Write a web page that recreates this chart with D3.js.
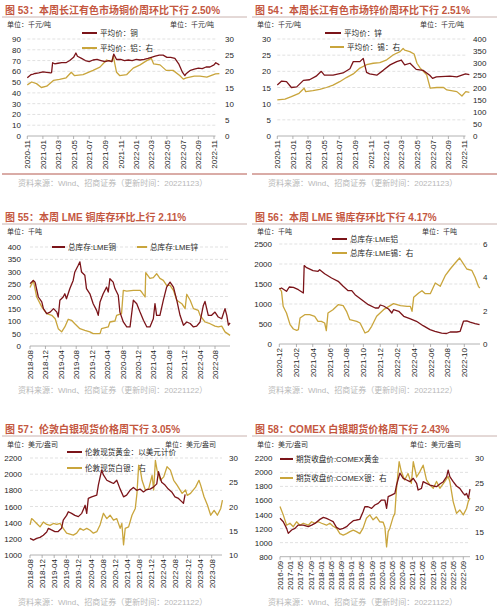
<!DOCTYPE html>
<html><head><meta charset="utf-8">
<script src="https://cdn.jsdelivr.net/npm/d3@7"></script>
<style>body{margin:0;background:#fff}svg{display:block}</style>
</head><body><svg id="c" width="500" height="611"></svg>
<script>
// ---------------- DATA ----------------
// Panel 53: Changjiang copper (left, k yuan/t) & aluminium (right)
const copperPrice = [["2020-11-01",54],["2020-11-08",55.5],["2020-11-16",57],["2020-11-24",57.5],["2020-12-01",58],["2020-12-16",58.5],["2021-01-01",59.5],["2021-01-16",59],["2021-02-01",58.5],["2021-02-04",59],["2021-02-08",68],["2021-02-16",67],["2021-03-01",67.5],["2021-03-16",68],["2021-04-01",68],["2021-04-16",70],["2021-05-01",73],["2021-05-10",77],["2021-05-16",74],["2021-06-01",72],["2021-06-16",70],["2021-07-01",69],["2021-07-16",70.5],["2021-08-01",71],["2021-08-16",70],["2021-09-01",69],["2021-09-16",70],["2021-09-28",69],["2021-10-05",76],["2021-10-16",71],["2021-11-01",71],["2021-11-16",70],["2021-12-01",70.5],["2021-12-16",70],["2022-01-01",71],["2022-01-16",70.5],["2022-02-01",71],["2022-02-16",72],["2022-03-01",73],["2022-03-16",74],["2022-04-01",75],["2022-04-16",75],["2022-05-01",73],["2022-05-16",73],["2022-06-01",72],["2022-06-16",67],["2022-07-01",59],["2022-07-10",56],["2022-07-16",58],["2022-08-01",61],["2022-08-16",62],["2022-09-01",63],["2022-09-16",62.5],["2022-10-01",64],["2022-10-16",64],["2022-11-01",66],["2022-11-08",68],["2022-11-22",66]];
const aluminumPrice = [["2020-11-01",15.8],["2020-11-18",16.7],["2020-12-07",16.2],["2020-12-26",15.0],["2021-01-16",15.4],["2021-02-11",17.2],["2021-03-07",17.5],["2021-04-02",18.0],["2021-04-22",19.7],["2021-05-04",18.7],["2021-06-07",19.0],["2021-07-16",20.3],["2021-08-12",21.3],["2021-09-07",23.5],["2021-09-27",23.0],["2021-10-03",24.8],["2021-10-16",19.7],["2021-10-28",18.7],["2021-11-25",19.0],["2021-12-20",21.0],["2022-01-16",22.0],["2022-02-11",23.3],["2022-03-01",24.0],["2022-03-10",22.3],["2022-04-04",22.0],["2022-04-28",20.3],["2022-05-25",20.3],["2022-06-20",18.7],["2022-07-04",17.6],["2022-07-16",18.0],["2022-08-16",18.5],["2022-09-07",18.5],["2022-10-04",18.2],["2022-11-07",19.2],["2022-11-22",19.3]];
const ticks53 = ["2020-11","2021-01","2021-03","2021-05","2021-07","2021-09","2021-11","2022-01","2022-03","2022-05","2022-07","2022-09","2022-11"];

// Panel 54: zinc (left) & tin (right)
const zincPrice = [["2020-11-01",15.8],["2020-11-18",17.0],["2020-12-07",16.8],["2020-12-26",15.0],["2021-01-16",15.2],["2021-02-11",17.2],["2021-03-07",17.4],["2021-04-02",18.5],["2021-04-22",20.0],["2021-05-04",18.8],["2021-06-07",18.8],["2021-07-16",19.5],["2021-08-12",20.8],["2021-08-25",23.0],["2021-09-20",23.0],["2021-10-03",24.0],["2021-10-16",19.7],["2021-10-28",19.2],["2021-11-25",18.8],["2021-12-20",20.3],["2022-01-16",22.0],["2022-02-11",23.0],["2022-03-01",23.5],["2022-03-14",22.0],["2022-04-04",22.5],["2022-04-28",20.6],["2022-05-25",20.3],["2022-06-20",18.8],["2022-07-01",17.8],["2022-07-16",18.3],["2022-09-07",18.5],["2022-10-04",18.3],["2022-11-07",19.2],["2022-11-22",19.0]];
const tinPrice = [["2020-11-01",149],["2020-12-01",152],["2020-12-26",162],["2021-01-25",176],["2021-02-14",197],["2021-02-20",183],["2021-03-20",187],["2021-04-16",192],["2021-05-12",200],["2021-06-07",210],["2021-07-03",224],["2021-07-29",241],["2021-08-25",256],["2021-09-20",280],["2021-10-16",294],["2021-11-11",300],["2021-12-07",303],["2022-01-03",314],["2022-01-29",335],["2022-02-24",348],["2022-03-08",361],["2022-03-14",354],["2022-04-03",348],["2022-04-20",338],["2022-05-01",300],["2022-05-14",280],["2022-06-08",252],["2022-06-22",197],["2022-07-18",200],["2022-08-13",200],["2022-08-26",190],["2022-10-04",183],["2022-10-24",165],["2022-11-08",183],["2022-11-22",180]];

// Panel 55: LME copper & zinc stocks (k t)
const lmeCopperStock = [["2018-08-01",252],["2018-08-27",265],["2018-09-10",258],["2018-10-06",198],["2018-11-02",178],["2018-11-15",151],["2018-12-11",131],["2019-01-07",137],["2019-02-03",151],["2019-03-01",137],["2019-03-12",117],["2019-03-25",185],["2019-04-20",198],["2019-05-03",211],["2019-05-16",191],["2019-06-12",232],["2019-07-08",265],["2019-07-21",299],["2019-08-17",326],["2019-08-30",340],["2019-09-12",299],["2019-10-08",286],["2019-10-21",232],["2019-11-17",211],["2019-12-13",171],["2020-01-09",144],["2020-01-22",124],["2020-02-05",178],["2020-03-01",211],["2020-03-28",238],["2020-04-10",218],["2020-04-23",272],["2020-05-19",258],["2020-06-02",232],["2020-06-28",205],["2020-07-11",137],["2020-08-07",97],["2020-09-03",77],["2020-09-29",77],["2020-10-25",185],["2020-11-21",171],["2020-12-17",137],["2021-01-13",104],["2021-02-09",77],["2021-03-05",77],["2021-04-01",110],["2021-04-14",171],["2021-04-27",124],["2021-05-23",124],["2021-06-19",185],["2021-07-15",238],["2021-08-11",258],["2021-09-07",238],["2021-10-03",185],["2021-10-29",124],["2021-11-25",84],["2021-12-21",97],["2022-01-17",91],["2022-02-12",77],["2022-03-09",80],["2022-04-05",97],["2022-05-01",164],["2022-05-14",180],["2022-06-09",124],["2022-07-05",124],["2022-08-01",137],["2022-08-27",117],["2022-09-23",110],["2022-10-19",151],["2022-11-02",124],["2022-11-15",84],["2022-11-28",93]];
const lmeZincStock = [["2018-08-01",236],["2018-08-27",265],["2018-09-23",198],["2018-11-02",158],["2018-12-11",131],["2019-01-20",124],["2019-02-16",110],["2019-03-12",70],["2019-04-08",57],["2019-05-03",77],["2019-05-30",108],["2019-06-25",104],["2019-07-21",90],["2019-08-30",70],["2019-10-08",63],["2019-11-17",57],["2019-12-13",50],["2020-02-05",50],["2020-02-17",70],["2020-04-10",77],["2020-04-23",97],["2020-06-02",101],["2020-06-15",124],["2020-07-24",131],["2020-08-07",225],["2020-09-03",222],["2020-10-25",225],["2020-12-17",225],["2020-12-30",218],["2021-01-26",198],["2021-01-31",296],["2021-03-05",273],["2021-04-01",276],["2021-04-27",292],["2021-05-23",273],["2021-06-19",265],["2021-07-15",245],["2021-08-11",245],["2021-09-07",225],["2021-10-03",185],["2021-11-12",171],["2021-12-08",151],["2021-12-21",209],["2022-01-17",185],["2022-02-12",151],["2022-03-22",144],["2022-04-05",124],["2022-05-14",97],["2022-06-23",90],["2022-08-01",80],["2022-08-27",77],["2022-09-23",80],["2022-10-19",57],["2022-11-28",43]];
const ticks55 = ["2018-08","2018-12","2019-04","2019-08","2019-12","2020-04","2020-08","2020-12","2021-04","2021-08","2021-12","2022-04","2022-08"];

// Panel 56: LME aluminium (left, k t) & tin (right, k t)
const lmeAlStock = [["2020-12-01",1375],["2020-12-09",1400],["2020-12-27",1317],["2021-01-06",1425],["2021-01-21",1417],["2021-02-08",1358],["2021-02-26",1275],["2021-03-01",1960],["2021-03-08",1917],["2021-04-02",1833],["2021-04-20",1817],["2021-04-26",1858],["2021-05-14",1758],["2021-06-08",1650],["2021-07-02",1567],["2021-07-20",1442],["2021-08-07",1333],["2021-08-20",1333],["2021-09-01",1233],["2021-09-25",1108],["2021-10-19",983],["2021-11-13",900],["2021-11-25",900],["2021-12-01",975],["2021-12-13",950],["2021-12-31",875],["2022-01-12",775],["2022-01-18",858],["2022-02-06",817],["2022-02-24",692],["2022-03-18",633],["2022-04-11",567],["2022-05-05",458],["2022-05-30",358],["2022-06-17",317],["2022-07-11",270],["2022-07-29",262],["2022-08-11",300],["2022-09-04",300],["2022-09-16",317],["2022-09-28",570],["2022-10-10",580],["2022-10-22",545],["2022-11-09",510],["2022-11-25",483]];
const lmeTinStock = [["2020-12-01",3.36],["2020-12-09",3.16],["2020-12-15",2.26],["2020-12-21",2.06],["2020-12-27",1.86],["2021-01-09",1.16],["2021-01-21",0.9],["2021-02-02",0.82],["2021-02-08",0.86],["2021-02-14",1.56],["2021-03-03",1.76],["2021-03-21",1.76],["2021-04-08",1.66],["2021-04-20",1.36],["2021-05-02",1.36],["2021-05-14",1.26],["2021-05-20",0.8],["2021-05-26",1.86],["2021-06-13",2.06],["2021-07-02",2.36],["2021-07-20",2.3],["2021-08-01",1.96],["2021-08-13",1.46],["2021-09-07",1.36],["2021-09-19",1.26],["2021-10-07",0.66],["2021-10-19",0.76],["2021-10-31",1.06],["2021-11-18",1.66],["2021-12-13",2.06],["2022-01-06",2.3],["2022-01-18",2.42],["2022-02-12",2.3],["2022-03-08",2.26],["2022-03-20",2.26],["2022-03-26",1.96],["2022-04-01",2.8],["2022-04-19",3.06],["2022-05-01",3.2],["2022-05-13",3.02],["2022-05-31",3.02],["2022-06-18",3.66],["2022-07-06",3.46],["2022-07-24",4.1],["2022-08-11",4.5],["2022-08-29",4.86],["2022-09-14",5.16],["2022-09-22",4.96],["2022-10-10",4.5],["2022-10-28",4.42],["2022-11-09",4.0],["2022-11-21",3.46],["2022-11-26",3.36]];
const ticks56 = ["2020-12","2021-02","2021-04","2021-06","2021-08","2021-10","2021-12","2022-02","2022-04","2022-06","2022-08","2022-10"];

// Panel 57: London spot gold (left, USD/oz) & silver (right)
const londonGold = [["2018-08-01",1205],["2018-09-04",1185],["2018-10-07",1205],["2018-11-10",1218],["2018-12-13",1245],["2019-01-16",1285],["2019-02-02",1330],["2019-03-05",1310],["2019-04-08",1290],["2019-05-11",1290],["2019-06-14",1330],["2019-07-01",1430],["2019-08-04",1490],["2019-08-21",1535],["2019-09-23",1515],["2019-10-26",1490],["2019-11-30",1475],["2020-01-03",1515],["2020-02-06",1615],["2020-02-22",1515],["2020-03-09",1700],["2020-04-12",1720],["2020-06-02",1740],["2020-06-18",1865],["2020-07-21",2050],["2020-08-08",1990],["2020-09-11",1925],["2020-10-14",1905],["2020-11-17",1885],["2020-12-20",1925],["2021-01-23",1815],["2021-02-26",1720],["2021-03-29",1740],["2021-05-02",1800],["2021-06-05",1835],["2021-07-08",1800],["2021-08-11",1815],["2021-09-14",1780],["2021-10-17",1810],["2021-11-20",1815],["2021-12-23",1840],["2022-01-26",1880],["2022-02-12",2030],["2022-03-16",1900],["2022-04-19",1865],["2022-05-22",1815],["2022-06-25",1780],["2022-07-28",1720],["2022-09-01",1700],["2022-10-04",1660],["2022-10-21",1640],["2022-11-07",1750]];
const londonSilver = [["2018-08-01",16.2],["2018-08-17",17.5],["2018-09-04",17.2],["2018-10-07",16.5],["2018-11-10",15.8],["2018-12-13",16.8],["2019-01-16",16.3],["2019-02-19",16.1],["2019-03-24",16.5],["2019-04-27",16.3],["2019-05-31",16.5],["2019-07-01",15.5],["2019-08-04",14.5],["2019-09-06",14.3],["2019-10-10",14.1],["2019-11-13",14.5],["2019-12-17",15.5],["2020-01-19",15.1],["2020-02-22",15.5],["2020-03-27",15.1],["2020-04-29",14.5],["2020-06-02",14.8],["2020-07-05",16.2],["2020-08-08",18.6],["2020-09-11",17.5],["2020-10-14",18.2],["2020-11-17",17.2],["2020-12-20",17.5],["2021-01-23",15.5],["2021-02-09",16.5],["2021-02-26",12.1],["2021-03-15",15.5],["2021-04-18",15.8],["2021-05-22",18.2],["2021-06-24",19.6],["2021-07-11",22.7],["2021-07-28",28.5],["2021-08-14",27.5],["2021-08-31",25.4],["2021-10-03",23.4],["2021-11-06",23.7],["2021-12-10",26.4],["2021-12-26",23.4],["2022-01-12",29.5],["2022-01-29",27.5],["2022-03-03",25.4],["2022-04-06",26.1],["2022-05-09",28.2],["2022-06-12",27.5],["2022-07-15",25.4],["2022-08-18",24.4],["2022-10-08",22.7],["2022-11-11",23.4],["2022-11-28",22.3],["2022-12-31",22.7],["2023-02-20",24.0],["2023-03-26",25.4],["2023-04-12",24.4],["2023-05-16",22.0],["2023-06-19",20.3],["2023-07-22",18.2],["2023-08-25",19.2],["2023-09-27",18.2],["2023-10-31",19.6],["2023-11-17",21.3]];
const ticks57 = ["2018-08","2018-12","2019-04","2019-08","2019-12","2020-04","2020-08","2020-12","2021-04","2021-08","2021-12","2022-04","2022-08","2022-12","2023-04","2023-08"];

// Panel 58: COMEX gold (left) & silver (right) futures
const comexGold = [["2016-09-01",1346],["2016-10-10",1298],["2016-11-19",1203],["2016-12-09",1132],["2017-01-18",1180],["2017-02-27",1203],["2017-04-07",1250],["2017-06-06",1250],["2017-08-05",1227],["2017-09-14",1250],["2017-10-23",1274],["2017-12-22",1331],["2018-02-01",1360],["2018-03-11",1346],["2018-04-20",1322],["2018-05-29",1298],["2018-07-08",1217],["2018-08-18",1189],["2018-09-27",1203],["2018-11-06",1227],["2018-12-16",1274],["2019-01-25",1312],["2019-03-04",1322],["2019-04-13",1331],["2019-05-22",1440],["2019-06-12",1511],["2019-07-21",1511],["2019-09-01",1488],["2019-10-10",1535],["2019-11-19",1559],["2019-12-28",1606],["2020-02-07",1606],["2020-02-27",1488],["2020-03-17",1654],["2020-04-26",1677],["2020-06-05",1701],["2020-06-25",1820],["2020-08-04",1990],["2020-09-13",1915],["2020-10-23",1891],["2020-12-02",1867],["2021-01-11",1915],["2021-02-20",1844],["2021-03-10",1749],["2021-04-19",1772],["2021-05-09",1867],["2021-06-18",1844],["2021-07-28",1820],["2021-09-07",1806],["2021-10-16",1796],["2021-11-25",1834],["2022-01-05",1867],["2022-02-14",1938],["2022-03-04",2033],["2022-03-24",1938],["2022-05-03",1867],["2022-06-12",1806],["2022-07-21",1772],["2022-09-01",1701],["2022-09-20",1677],["2022-10-10",1700],["2022-11-01",1630],["2022-11-20",1760]];
const comexSilver = [["2016-09-01",20.2],["2016-10-10",18.5],["2016-11-19",16.4],["2016-12-29",16.8],["2017-02-07",16.1],["2017-03-18",17.1],["2017-04-27",16.4],["2017-06-06",16.8],["2017-08-05",16.4],["2017-09-14",17.1],["2017-10-23",16.8],["2017-12-02",17.1],["2018-01-11",16.8],["2018-03-11",16.4],["2018-04-20",16.8],["2018-05-29",16.2],["2018-07-08",15.8],["2018-08-18",14.7],["2018-09-27",14.4],["2018-11-06",14.7],["2018-12-16",15.1],["2019-01-25",15.4],["2019-03-04",15.1],["2019-04-13",14.7],["2019-05-22",15.8],["2019-07-01",17.8],["2019-08-10",18.5],["2019-09-19",17.5],["2019-10-29",18.1],["2019-12-08",17.1],["2020-01-17",17.0],["2020-02-07",16.0],["2020-02-27",12.0],["2020-03-17",15.1],["2020-04-06",15.8],["2020-05-16",18.1],["2020-06-05",18.8],["2020-06-25",23.9],["2020-07-26",29.3],["2020-08-21",27.3],["2020-09-30",25.6],["2020-11-09",26.9],["2020-12-19",24.9],["2021-01-11",29.3],["2021-02-20",26.2],["2021-03-31",27.3],["2021-05-09",28.6],["2021-06-18",25.6],["2021-07-28",24.6],["2021-09-07",23.9],["2021-10-16",25.3],["2021-11-25",23.9],["2022-01-24",25.3],["2022-03-04",26.3],["2022-03-24",25.3],["2022-05-03",21.2],["2022-06-12",18.8],["2022-07-21",19.5],["2022-09-01",18.5],["2022-10-10",19.8],["2022-10-30",21.2],["2022-11-20",21.9]];
const ticks58 = ["2016-09","2017-01","2017-05","2017-09","2018-01","2018-05","2018-09","2019-01","2019-05","2019-09","2020-01","2020-05","2020-09","2021-01","2021-05","2021-09","2022-01","2022-05","2022-09"];

// ---------------- DRAWING ----------------
const svg = d3.select("#c");
const parse = d3.timeParse("%Y-%m-%d");
const parseM = d3.timeParse("%Y-%m");
const FONT = "'Liberation Sans', Arial, 'Noto Sans CJK SC', sans-serif";
const RED = "#7b1419", GOLD = "#c9a53c";
svg.append("rect").attr("width",500).attr("height",611).attr("fill","#fff");

function panel(c) {
  const g = svg.append("g").attr("font-family", FONT);
  g.append("text").attr("x", c.ox + 5).attr("y", c.titleY).attr("font-size", 10)
    .attr("font-weight", "bold").attr("fill", "#c4573f").text(c.title);
  g.append("line").attr("x1", c.ox + 2).attr("x2", c.ox + 247)
    .attr("y1", c.titleY + 3).attr("y2", c.titleY + 3).attr("stroke", "#c9b2ae").attr("stroke-width", 1);
  g.append("text").attr("x", c.ox + 7).attr("y", c.unitY).attr("font-size", 7).attr("fill", "#333").text(c.unitL);
  if (c.unitR) g.append("text").attr("x", c.unitRX).attr("y", c.unitY).attr("font-size", 7).attr("fill", "#333").text(c.unitR);

  const x = d3.scaleTime().domain([parseM(c.ticks[0]), parseM(c.ticks[c.ticks.length - 1])]).range([c.x0, c.x1]);
  const yL = d3.scaleLinear().domain(c.lDomain).range([c.bottom, c.top]);
  const yR = c.rDomain ? d3.scaleLinear().domain(c.rDomain).range([c.bottom, c.top]) : null;

  // gridlines
  const lTicks = d3.range(c.lDomain[0], c.lDomain[1] + 1e-9, c.lStep);
  lTicks.slice(1).forEach(v => {
    g.append("line").attr("x1", c.x0).attr("x2", c.xEnd).attr("y1", yL(v)).attr("y2", yL(v))
      .attr("stroke", "#d9d9d9").attr("stroke-width", 0.8).attr("stroke-dasharray", "3,2");
  });
  lTicks.forEach(v => {
    g.append("text").attr("x", c.lLabelX).attr("y", yL(v) + 3).attr("text-anchor", "end")
      .attr("font-size", 8).attr("fill", "#262626").text(v);
  });
  if (yR) {
    d3.range(c.rDomain[0], c.rDomain[1] + 1e-9, c.rStep).forEach(v => {
      g.append("text").attr("x", c.rLabelX).attr("y", yR(v) + 3).attr("text-anchor", "start")
        .attr("font-size", 8).attr("fill", "#262626").text(v);
    });
  }
  // x axis
  g.append("line").attr("x1", c.x0).attr("x2", c.xEnd).attr("y1", c.bottom).attr("y2", c.bottom)
    .attr("stroke", "#a0a0a0").attr("stroke-width", 0.8);
  c.ticks.forEach(t => {
    const xp = x(parseM(t));
    g.append("line").attr("x1", xp).attr("x2", xp).attr("y1", c.bottom).attr("y2", c.bottom + 3)
      .attr("stroke", "#a0a0a0").attr("stroke-width", 0.8);
    g.append("text").attr("transform", `translate(${xp + 3},${c.bottom + 4}) rotate(-90)`)
      .attr("text-anchor", "end").attr("font-size", 8).attr("fill", "#262626").text(t);
  });
  // legend
  c.legend.forEach(l => {
    g.append("line").attr("x1", l.x1).attr("x2", l.x2).attr("y1", l.y).attr("y2", l.y)
      .attr("stroke", l.color).attr("stroke-width", 2);
    g.append("text").attr("x", l.x2 + 3).attr("y", l.y + 3).attr("font-size", 7.6).attr("fill", "#262626").text(l.text);
  });
  // series
  c.series.forEach(s => {
    const ys = s.axis === "r" ? yR : yL;
    g.append("path").datum(s.data)
      .attr("d", d3.line().x(d => x(parse(d[0]))).y(d => ys(d[1])))
      .attr("fill", "none").attr("stroke", s.color).attr("stroke-width", 1.3).attr("stroke-linejoin", "round");
  });
  // source
  g.append("text").attr("x", c.ox + 18).attr("y", c.srcY).attr("font-size", 8).attr("fill", "#b8b8b8").text(c.source);
  if (c.bottomLine) g.append("line").attr("x1", c.ox + 2).attr("x2", c.ox + 247)
    .attr("y1", c.bottomLine).attr("y2", c.bottomLine).attr("stroke", "#b4584e").attr("stroke-width", 1);
}

panel({ox:0, titleY:14, title:"图 53：本周长江有色市场铜价周环比下行 2.50%", unitY:27, unitL:"单位：千元/吨", unitR:"单位：千元/吨", unitRX:170,
  ticks:ticks53, x0:27.3, x1:214, xEnd:215.5, top:39, bottom:136, lDomain:[0,90], lStep:10, lLabelX:21, rDomain:[0,30], rStep:5, rLabelX:225,
  series:[{data:aluminumPrice,color:GOLD,axis:"r"},{data:copperPrice,color:RED,axis:"l"}],
  legend:[{x1:82,x2:97,y:33,text:"平均价：铜",color:RED},{x1:82,x2:97,y:48,text:"平均价：铝：右",color:GOLD}],
  source:"资料来源：Wind、招商证券（更新时间：20221123）", srcY:186, bottomLine:174});
panel({ox:250, titleY:14, title:"图 54：本周长江有色市场锌价周环比下行 2.51%", unitY:27, unitL:"单位：千元/吨", unitR:"单位：千元/吨", unitRX:420,
  ticks:ticks53, x0:277.3, x1:464, xEnd:465.5, top:39, bottom:136, lDomain:[0,30], lStep:5, lLabelX:271, rDomain:[0,400], rStep:50, rLabelX:473,
  series:[{data:tinPrice,color:GOLD,axis:"r"},{data:zincPrice,color:RED,axis:"l"}],
  legend:[{x1:325,x2:341,y:33,text:"平均价：锌",color:RED},{x1:330,x2:344,y:47,text:"平均价：锡：右",color:GOLD}],
  source:"资料来源：Wind、招商证券（更新时间：20221123）", srcY:186, bottomLine:174});
panel({ox:0, titleY:221, title:"图 55：本周 LME 铜库存环比上行 2.11%", unitY:234, unitL:"单位：千吨",
  ticks:ticks55, x0:30, x1:215, xEnd:230, top:247, bottom:346, lDomain:[0,400], lStep:50, lLabelX:21,
  series:[{data:lmeZincStock,color:GOLD,axis:"l"},{data:lmeCopperStock,color:RED,axis:"l"}],
  legend:[{x1:52,x2:65,y:247,text:"总库存:LME铜",color:RED},{x1:137,x2:147,y:247,text:"总库存:LME锌",color:GOLD}],
  source:"资料来源：Wind、招商证券（更新时间：20221122）", srcY:393});
panel({ox:250, titleY:221, title:"图 56：本周 LME 锡库存环比下行 4.17%", unitY:234, unitL:"单位：千吨", unitR:"单位：千吨", unitRX:422,
  ticks:ticks56, x0:279.3, x1:464.3, xEnd:480, top:244, bottom:344, lDomain:[0,2500], lStep:500, lLabelX:272, rDomain:[0,6], rStep:2, rLabelX:483,
  series:[{data:lmeTinStock,color:GOLD,axis:"r"},{data:lmeAlStock,color:RED,axis:"l"}],
  legend:[{x1:332,x2:347,y:239,text:"总库存:LME铝",color:RED},{x1:332,x2:347,y:253,text:"总库存:LME锡：右",color:GOLD}],
  source:"资料来源：Wind、招商证券（更新时间：20221122）", srcY:393});
panel({ox:0, titleY:433, title:"图 57：伦敦白银现货价格周下行 3.05%", unitY:447, unitL:"单位：美元/盎司", unitR:"单位：美元/盎司", unitRX:165,
  ticks:ticks57, x0:30, x1:211.7, xEnd:222, top:458, bottom:555, lDomain:[1000,2200], lStep:200, lLabelX:22, rDomain:[10,30], rStep:5, rLabelX:229,
  series:[{data:londonSilver,color:GOLD,axis:"r"},{data:londonGold,color:RED,axis:"l"}],
  legend:[{x1:67,x2:82,y:452,text:"伦敦现货黄金：以美元计价",color:RED},{x1:67,x2:82,y:468,text:"伦敦现货白银：右",color:GOLD}],
  source:"资料来源：Wind、招商证券（更新时间：20221122）", srcY:605});
panel({ox:250, titleY:433, title:"图 58：COMEX 白银期货价格周下行 2.43%", unitY:447, unitL:"单位：美元/盎司", unitR:"单位：美元/盎司", unitRX:410,
  ticks:ticks58, x0:280, x1:463.3, xEnd:470, top:458.3, bottom:556.7, lDomain:[800,2200], lStep:200, lLabelX:272.5, rDomain:[10,30], rStep:5, rLabelX:475,
  series:[{data:comexSilver,color:GOLD,axis:"r"},{data:comexGold,color:RED,axis:"l"}],
  legend:[{x1:280,x2:293,y:459,text:"期货收盘价:COMEX黄金",color:RED},{x1:280,x2:293,y:478,text:"期货收盘价:COMEX银：右",color:GOLD}],
  source:"资料来源：Wind、招商证券（更新时间：20221122）", srcY:605});
</script></body></html>
